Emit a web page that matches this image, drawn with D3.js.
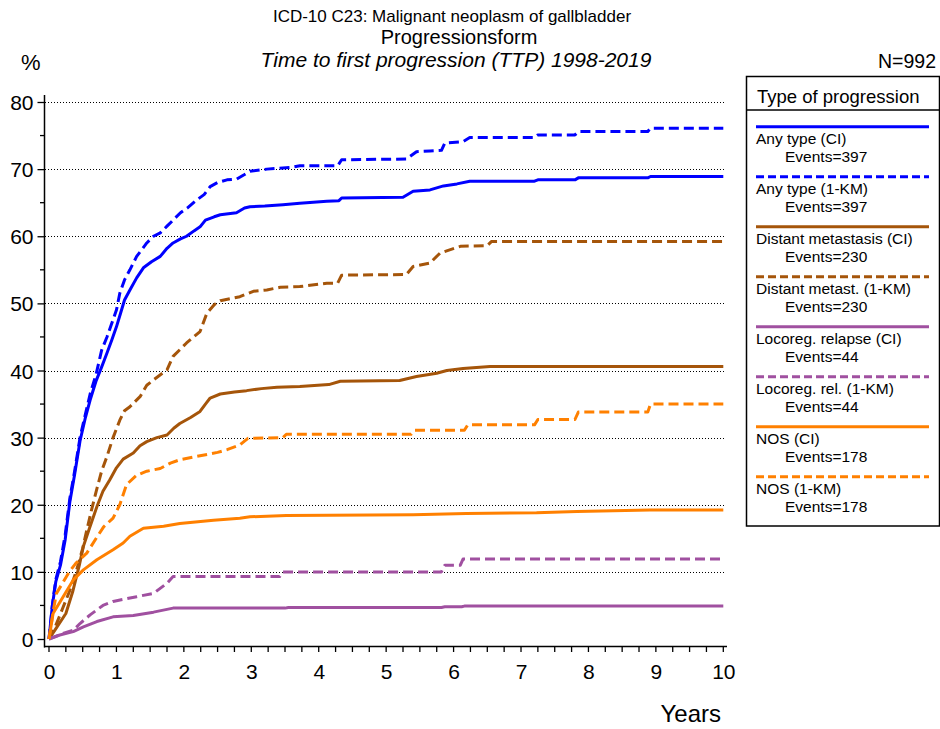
<!DOCTYPE html>
<html>
<head>
<meta charset="utf-8">
<script src="https://cdn.jsdelivr.net/npm/d3@7"></script>
<style>
    body { margin: 0; background: #fff; }
    text { font-family: "Liberation Sans", Arial, sans-serif; fill: #000; }
</style>
</head>
<body>
<div id="chart"></div>
<script>
// curves: [years, percent]
const anyCI = [[0,0],[0.05,5],[0.1,8.5],[0.17,11],[0.24,14.8],[0.31,20.5],[0.38,24.5],[0.46,29.5],[0.54,33],[0.61,35.6],[0.7,38.5],[0.78,40.5],[0.86,42.6],[0.93,44.5],[1.0,46.5],[1.06,48.5],[1.12,50.5],[1.2,52],[1.3,53.8],[1.4,55.3],[1.52,56.2],[1.65,57],[1.75,58.2],[1.84,59],[1.95,59.6],[2.04,60],[2.15,60.8],[2.24,61.4],[2.32,62.4],[2.45,62.9],[2.54,63.2],[2.78,63.5],[2.9,64.2],[2.98,64.4],[3.2,64.5],[3.47,64.7],[3.72,64.9],[4.12,65.2],[4.3,65.3],[4.34,65.7],[5.25,65.8],[5.4,66.7],[5.65,66.9],[5.85,67.5],[6.05,67.8],[6.24,68.2],[7.2,68.2],[7.25,68.4],[7.8,68.4],[7.85,68.7],[8.88,68.7],[8.92,68.9],[10,68.9]];
const anyKM = [[0,0],[0.05,5],[0.1,8.8],[0.17,11.5],[0.24,15.5],[0.31,21],[0.38,25],[0.46,30],[0.54,33.5],[0.61,36.5],[0.7,39.5],[0.78,43],[0.86,45],[0.93,47],[1.0,49],[1.05,51.5],[1.12,53.5],[1.2,55],[1.3,57],[1.45,59],[1.55,60],[1.65,60.5],[1.75,61.5],[1.84,62.4],[1.95,63.5],[2.05,64.2],[2.19,65.4],[2.3,66.2],[2.39,67.4],[2.5,68],[2.64,68.4],[2.78,68.5],[2.9,69.2],[2.98,69.7],[3.23,70],[3.62,70.3],[3.72,70.5],[4.28,70.5],[4.34,71.4],[5.3,71.5],[5.45,72.6],[5.65,72.7],[5.82,72.8],[5.87,73.9],[6.14,74.1],[6.24,74.7],[7.2,74.7],[7.25,75.1],[7.8,75.1],[7.85,75.6],[8.88,75.6],[8.92,76.1],[10,76.1]];
const distCI = [[0,0],[0.1,1.5],[0.25,3.8],[0.35,7],[0.45,11],[0.51,13.8],[0.6,16.5],[0.71,19.7],[0.8,22],[0.9,23.7],[1.0,25.5],[1.1,26.8],[1.25,27.7],[1.35,28.8],[1.45,29.4],[1.6,30],[1.75,30.4],[1.85,31.4],[1.94,32.1],[2.1,33],[2.24,33.9],[2.32,35],[2.39,35.9],[2.54,36.5],[2.75,36.8],[2.93,37],[3.15,37.3],[3.38,37.5],[3.72,37.6],[4.15,37.9],[4.32,38.4],[5.2,38.5],[5.45,39.1],[5.75,39.6],[5.9,40],[6.14,40.3],[6.54,40.6],[10,40.6]];
const distKM = [[0,0],[0.1,2],[0.2,4.5],[0.3,7],[0.41,10.3],[0.5,13.5],[0.56,16.2],[0.63,19.2],[0.7,22],[0.78,25],[0.86,27.2],[0.95,30],[1.05,32.6],[1.12,34],[1.2,34.6],[1.35,36.1],[1.45,37.8],[1.55,38.6],[1.75,40.1],[1.84,42.1],[1.95,43.2],[2.04,44.1],[2.24,45.8],[2.34,48.5],[2.45,49.8],[2.54,50.4],[2.83,51],[3.03,51.8],[3.23,52],[3.43,52.4],[3.72,52.5],[4.12,53],[4.28,53],[4.34,54.2],[5.3,54.3],[5.4,55.5],[5.65,56],[5.8,57.5],[6.1,58.5],[6.5,58.6],[6.56,59.2],[10,59.2]];
const locoCI = [[0,0],[0.16,0.6],[0.36,1.1],[0.51,1.8],[0.71,2.6],[0.95,3.3],[1.25,3.5],[1.55,4.0],[1.84,4.6],[3.5,4.6],[3.55,4.7],[5.82,4.7],[5.87,4.8],[6.12,4.8],[6.16,4.9],[10,4.9]];
const locoKM = [[0,0],[0.2,0.8],[0.36,1.3],[0.46,2.3],[0.61,3.6],[0.8,5],[0.95,5.6],[1.3,6.3],[1.55,6.8],[1.75,8.3],[1.84,9.3],[3.42,9.3],[3.47,10],[5.82,10],[5.87,11],[6.1,11],[6.14,11.9],[10,11.9]];
const nosCI = [[0,0],[0.06,3.8],[0.21,6.3],[0.36,8.8],[0.51,10.3],[0.71,11.8],[0.95,13.3],[1.1,14.3],[1.2,15.3],[1.4,16.5],[1.7,16.8],[1.94,17.2],[2.44,17.7],[2.83,18],[2.98,18.2],[3.52,18.4],[5.4,18.5],[6.19,18.7],[7.23,18.8],[7.83,19],[8.91,19.2],[10,19.2]];
const nosKM = [[0,0],[0.06,4],[0.11,6.8],[0.2,8.3],[0.3,10],[0.4,11.3],[0.56,12.8],[0.7,15],[0.81,16.7],[0.95,18],[1.05,20],[1.15,23],[1.3,24.4],[1.45,25],[1.65,25.4],[1.8,26.2],[1.94,26.7],[2.24,27.3],[2.5,27.8],[2.64,28.2],[2.83,28.9],[2.95,29.9],[3.47,30],[3.52,30.5],[5.37,30.5],[5.42,31.1],[6.16,31.1],[6.21,31.9],[7.2,31.9],[7.25,32.7],[7.8,32.7],[7.85,33.8],[8.88,33.8],[8.92,35],[10,35]];

const seriesNames = ["Any type (CI)", "Any type (1-KM)", "Distant metastasis (CI)", "Distant metast. (1-KM)",
    "Locoreg. relapse (CI)", "Locoreg. rel. (1-KM)", "NOS (CI)", "NOS (1-KM)"];
const seriesEvents = [397, 397, 230, 230, 44, 44, 178, 178];
const seriesData = [anyCI, anyKM, distCI, distKM, locoCI, locoKM, nosCI, nosKM];
const seriesColors = ["#0000ff", "#0000ff", "#a5550a", "#a5550a", "#a050a0", "#a050a0", "#ff8000", "#ff8000"];
const seriesDashed = [false, true, false, true, false, true, false, true];

const yTicks = [0, 10, 20, 30, 40, 50, 60, 70, 80];
const yMinor = [5, 15, 25, 35, 45, 55, 65, 75];
const yGrid = [10, 20, 30, 40, 50, 60, 70, 80];
const xTicks = [0, 1, 2, 3, 4, 5, 6, 7, 8, 9, 10];
const xMinor = d3.range(0, 10.01, 0.25);

const width = 940, height = 729;

var svg = d3.select("#chart").append("svg")
    .attr("width", width)
    .attr("height", height);

var x = d3.scaleLinear().domain([0, 10]).range([49, 723.3]);
var y = d3.scaleLinear().domain([0, 80]).range([639, 102]);

// titles
svg.append("text").attr("x", 452).attr("y", 22).attr("text-anchor", "middle")
    .style("font-size", "17px").text("ICD-10 C23: Malignant neoplasm of gallbladder");
svg.append("text").attr("x", 459).attr("y", 44).attr("text-anchor", "middle")
    .style("font-size", "20px").text("Progressionsform");
svg.append("text").attr("x", 456).attr("y", 67).attr("text-anchor", "middle")
    .style("font-size", "21px").style("font-style", "italic")
    .text("Time to first progression (TTP) 1998-2019");
svg.append("text").attr("x", 21).attr("y", 70).style("font-size", "22px").text("%");
svg.append("text").attr("x", 936).attr("y", 68).attr("text-anchor", "end")
    .style("font-size", "19.5px").text("N=992");

// grid
svg.append("g").selectAll("line")
    .data(yGrid)
    .enter().append("line")
    .attr("x1", 45).attr("x2", 724)
    .attr("y1", d => Math.round(y(d)) + 0.5)
    .attr("y2", d => Math.round(y(d)) + 0.5)
    .style("stroke", "#000")
    .style("stroke-width", 1)
    .style("stroke-dasharray", "1,2");

// y axis
var yAxis = d3.axisLeft(y).tickValues(yTicks).tickSize(7).tickPadding(4).tickSizeOuter(0);
var gy = svg.append("g").attr("transform", "translate(44.5,0)").call(yAxis);
gy.select(".domain").remove();
gy.selectAll("text").style("font-size", "21px").attr("dy", "0.36em");
gy.selectAll(".tick line").style("stroke-width", 1.3);
svg.append("g").selectAll("line")
    .data(yMinor)
    .enter().append("line")
    .attr("x1", 40).attr("x2", 44.5)
    .attr("y1", d => y(d)).attr("y2", d => y(d))
    .style("stroke", "#000").style("stroke-width", 1.3);
svg.append("line").attr("x1", 44.5).attr("x2", 44.5).attr("y1", 95).attr("y2", 647.5)
    .style("stroke", "#000").style("stroke-width", 1.5);

// x axis
var xAxis = d3.axisBottom(x).tickValues(xTicks).tickSize(0).tickPadding(18).tickSizeOuter(0);
var gx = svg.append("g").attr("transform", "translate(0,646.5)").call(xAxis);
gx.select(".domain").remove();
gx.selectAll("text").style("font-size", "21px");
svg.append("g").selectAll("line")
    .data(xMinor)
    .enter().append("line")
    .attr("x1", d => x(d)).attr("x2", d => x(d))
    .attr("y1", 646.5).attr("y2", 652)
    .style("stroke", "#000").style("stroke-width", 1.3);
svg.append("line").attr("x1", 44).attr("x2", 727).attr("y1", 646.5).attr("y2", 646.5)
    .style("stroke", "#000").style("stroke-width", 1.5);
svg.append("text").attr("x", 721).attr("y", 722).attr("text-anchor", "end")
    .style("font-size", "24px").text("Years");

// curves
var line = d3.line()
    .x(d => x(d[0]))
    .y(d => y(d[1]));

svg.append("g").selectAll("path")
    .data(seriesData)
    .enter().append("path")
    .attr("d", d => line(d))
    .style("fill", "none")
    .style("stroke", (d, i) => seriesColors[i])
    .style("stroke-width", 3)
    .style("stroke-linejoin", "round")
    .style("stroke-dasharray", (d, i) => seriesDashed[i] ? "10,5" : null);

// legend
var legend = svg.append("g");
legend.append("rect").attr("x", 746.5).attr("y", 76.5).attr("width", 193).attr("height", 449.5)
    .style("fill", "none").style("stroke", "#000").style("stroke-width", 1.5);
legend.append("line").attr("x1", 746.5).attr("x2", 939.5).attr("y1", 110).attr("y2", 110)
    .style("stroke", "#000").style("stroke-width", 1.5);
legend.append("text").attr("x", 757).attr("y", 103).style("font-size", "18.5px").text("Type of progression");

var item = legend.selectAll(".item")
    .data(seriesNames)
    .enter().append("g")
    .attr("class", "item")
    .attr("transform", (d, i) => "translate(0," + (126.7 + i * 50) + ")");
item.append("line")
    .attr("x1", 756).attr("x2", 929).attr("y1", 0).attr("y2", 0)
    .style("stroke", (d, i) => seriesColors[i])
    .style("stroke-width", 3)
    .style("stroke-dasharray", (d, i) => seriesDashed[i] ? "8,4" : null);
item.append("text").attr("x", 756).attr("y", 17.5).style("font-size", "15.5px").text(d => d);
item.append("text").attr("x", 785).attr("y", 35).style("font-size", "15.5px")
    .text((d, i) => "Events=" + seriesEvents[i]);
</script>
</body>
</html>
